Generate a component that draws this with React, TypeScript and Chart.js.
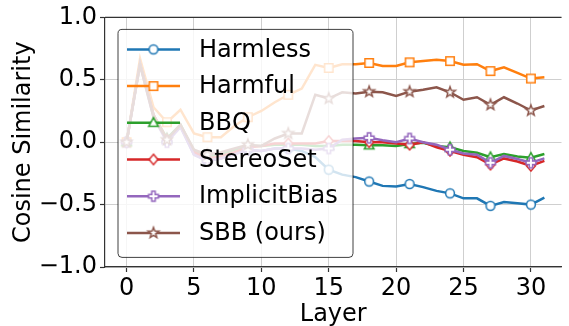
import React, { useEffect, useRef } from 'react';
import { Chart, registerables } from 'chart.js';
Chart.register(...registerables);

const LAYERS = [0, 1, 2, 3, 4, 5, 6, 7, 8, 9, 10, 11, 12, 13, 14, 15, 16, 17, 18, 19, 20, 21, 22, 23, 24, 25, 26, 27, 28, 29, 30, 31];

const HARMLESS = [0, 0.64, 0.22, 0.01, 0.13, -0.1, -0.15, -0.13, -0.09, -0.06, -0.07, -0.05, -0.05, -0.07, -0.12, -0.22, -0.26, -0.28, -0.315, -0.35, -0.355, -0.335, -0.36, -0.39, -0.41, -0.45, -0.45, -0.51, -0.48, -0.49, -0.5, -0.445];
const HARMFUL = [0, 0.67, 0.28, 0.16, 0.26, 0.07, 0.04, 0.04, 0.13, 0.2, 0.25, 0.32, 0.38, 0.43, 0.62, 0.595, 0.625, 0.625, 0.635, 0.61, 0.61, 0.64, 0.65, 0.66, 0.65, 0.62, 0.625, 0.57, 0.6, 0.555, 0.51, 0.52];
const BBQ = [0, 0.63, 0.22, 0.03, 0.14, -0.07, -0.12, -0.1, -0.06, -0.03, -0.03, -0.02, -0.02, -0.02, -0.03, -0.03, -0.02, -0.02, -0.025, -0.025, -0.03, -0.015, -0.005, -0.03, -0.04, -0.07, -0.085, -0.12, -0.095, -0.115, -0.125, -0.095];
const STEREOSET = [0, 0.63, 0.22, 0.02, 0.13, -0.08, -0.13, -0.11, -0.08, -0.04, -0.03, -0.01, -0.01, -0.01, -0.01, 0.01, 0.01, 0.01, 0, 0, -0.01, -0.02, 0, -0.04, -0.07, -0.1, -0.12, -0.18, -0.13, -0.155, -0.19, -0.15];
const IMPLICITBIAS = [0, 0.62, 0.2, 0.0, 0.12, -0.1, -0.15, -0.13, -0.1, -0.06, -0.07, -0.05, -0.05, -0.05, -0.06, -0.05, 0.02, 0.03, 0.035, 0.015, 0, 0.03, 0, -0.02, -0.06, -0.09, -0.1, -0.165, -0.11, -0.135, -0.165, -0.13];
const SBB = [0, 0.62, 0.2, 0.02, 0.14, -0.06, -0.1, -0.08, -0.05, -0.02, -0.03, 0.03, 0.07, 0.07, 0.38, 0.35, 0.4, 0.39, 0.405, 0.4, 0.37, 0.405, 0.42, 0.44, 0.4, 0.34, 0.36, 0.3, 0.36, 0.31, 0.254, 0.29];

const SERIES_NAMES = ['Harmless', 'Harmful', 'BBQ', 'StereoSet', 'ImplicitBias', 'SBB (ours)'];
const SERIES_VALUES = [HARMLESS, HARMFUL, BBQ, STEREOSET, IMPLICITBIAS, SBB];
const COLORS = ['#1f77b4', '#ff7f0e', '#2ca02c', '#d62728', '#9467bd', '#8c564b'];
const MARKERS = ['circle', 'square', 'triangle', 'diamond', 'plus', 'star'];
const X_TICKS = [0, 5, 10, 15, 20, 25, 30];
const Y_TICKS = [-1, -0.5, 0, 0.5, 1];
const MARK_EVERY = 3;

const FONT = 'DejaVu Sans';

function makeMarker(shape: string, color: string): HTMLCanvasElement {
  const c = document.createElement('canvas');
  c.width = 18;
  c.height = 18;
  const g = c.getContext('2d')!;
  g.translate(9, 9);
  g.beginPath();
  if (shape === 'circle') {
    g.arc(0, 0, 4.4, 0, Math.PI * 2);
  } else if (shape === 'square') {
    g.rect(-4.2, -4.2, 8.4, 8.4);
  } else if (shape === 'triangle') {
    g.moveTo(0, -5.2);
    g.lineTo(4.8, 3.6);
    g.lineTo(-4.8, 3.6);
    g.closePath();
  } else if (shape === 'diamond') {
    g.moveTo(0, -5.2);
    g.lineTo(4.4, 0);
    g.lineTo(0, 5.2);
    g.lineTo(-4.4, 0);
    g.closePath();
  } else if (shape === 'plus') {
    const t = 1.7, s = 4.9;
    g.moveTo(-t, -s); g.lineTo(t, -s); g.lineTo(t, -t); g.lineTo(s, -t); g.lineTo(s, t);
    g.lineTo(t, t); g.lineTo(t, s); g.lineTo(-t, s); g.lineTo(-t, t); g.lineTo(-s, t);
    g.lineTo(-s, -t); g.lineTo(-t, -t); g.closePath();
  } else if (shape === 'star') {
    const ro = 5.6, ri = 2.3;
    for (let k = 0; k < 10; k++) {
      const r = k % 2 === 0 ? ro : ri;
      const a = -Math.PI / 2 + (k * Math.PI) / 5;
      const px = r * Math.cos(a), py = r * Math.sin(a);
      if (k === 0) g.moveTo(px, py); else g.lineTo(px, py);
    }
    g.closePath();
  }
  g.fillStyle = '#ffffff';
  g.fill();
  g.strokeStyle = color;
  g.lineWidth = 1.5;
  g.lineJoin = 'miter';
  g.stroke();
  return c;
}

export default function App() {
  const ref = useRef<HTMLCanvasElement | null>(null);

  useEffect(() => {
    document.body.style.margin = '0';
    const canvas = ref.current!;
    const markers = MARKERS.map((m, i) => makeMarker(m, COLORS[i]));

    const datasets = SERIES_VALUES.map((vals, i) => ({
      label: SERIES_NAMES[i],
      data: vals.map((v, j) => ({ x: LAYERS[j], y: v })),
      borderColor: COLORS[i],
      backgroundColor: COLORS[i],
      borderWidth: 2.5,
      tension: 0,
      order: SERIES_VALUES.length - i,
      pointStyle: markers[i],
      pointRadius: (ctx: any) => (ctx.dataIndex % MARK_EVERY === 0 ? 5 : 0),
      pointHoverRadius: 0,
    }));

    const legendPlugin = {
      id: 'mplLegend',
      afterDatasetsDraw(chart: any) {
        const { ctx, chartArea } = chart;
        const x0 = chartArea.left + 13;
        const y0 = chartArea.top + 12;
        const w = 235;
        const h = 228;
        const r = 4;
        ctx.save();
        ctx.beginPath();
        ctx.moveTo(x0 + r, y0);
        ctx.lineTo(x0 + w - r, y0);
        ctx.arcTo(x0 + w, y0, x0 + w, y0 + r, r);
        ctx.lineTo(x0 + w, y0 + h - r);
        ctx.arcTo(x0 + w, y0 + h, x0 + w - r, y0 + h, r);
        ctx.lineTo(x0 + r, y0 + h);
        ctx.arcTo(x0, y0 + h, x0, y0 + h - r, r);
        ctx.lineTo(x0, y0 + r);
        ctx.arcTo(x0, y0, x0 + r, y0, r);
        ctx.closePath();
        ctx.fillStyle = 'rgba(255,255,255,0.8)';
        ctx.fill();
        ctx.strokeStyle = 'rgba(0,0,0,0.75)';
        ctx.lineWidth = 1;
        ctx.stroke();
        ctx.font = `24px "${FONT}"`;
        ctx.textBaseline = 'middle';
        ctx.textAlign = 'left';
        SERIES_NAMES.forEach((name, i) => {
          const cy = y0 + 20 + i * 36.7;
          ctx.beginPath();
          ctx.moveTo(x0 + 9, cy);
          ctx.lineTo(x0 + 62, cy);
          ctx.strokeStyle = COLORS[i];
          ctx.lineWidth = 2.5;
          ctx.stroke();
          const m = markers[i];
          ctx.drawImage(m, x0 + 35.5 - m.width / 2, cy - m.height / 2);
          ctx.fillStyle = '#000';
          ctx.fillText(name, x0 + 81, cy + 1);
        });
        ctx.restore();
      },
      afterDraw(chart: any) {
        const { ctx, chartArea } = chart;
        ctx.save();
        ctx.beginPath();
        ctx.moveTo(chartArea.left, chartArea.top);
        ctx.lineTo(chartArea.right, chartArea.top);
        ctx.strokeStyle = '#333';
        ctx.lineWidth = 1.2;
        ctx.stroke();
        ctx.restore();
      },
    };

    const chart = new Chart(canvas, {
      type: 'line',
      data: { datasets: datasets as any },
      options: {
        animation: false,
        responsive: false,
        events: [],
        layout: { padding: { top: 15, right: 0, left: 0, bottom: 0 } },
        plugins: { legend: { display: false }, tooltip: { enabled: false } },
        scales: {
          x: {
            type: 'linear',
            min: -1.6,
            max: 32.27,
            afterBuildTicks: (s: any) => { s.ticks = X_TICKS.map((v) => ({ value: v })); },
            afterFit: (s: any) => { s.height = 59; },
            ticks: {
              font: { family: FONT, size: 24 },
              color: '#000',
              padding: 2,
              maxRotation: 0,
              autoSkip: false,
            },
            grid: { color: '#cfcfcf', lineWidth: 1, tickColor: '#333', tickLength: 5, tickWidth: 1.2 },
            border: { display: true, color: '#333', width: 1.2 },
            title: {
              display: true,
              text: 'Layer',
              font: { family: FONT, size: 24 },
              color: '#000',
              padding: { top: 0, bottom: -3 },
            },
          },
          y: {
            type: 'linear',
            min: -1,
            max: 1,
            afterBuildTicks: (s: any) => { s.ticks = Y_TICKS.map((v) => ({ value: v })); },
            afterFit: (s: any) => { s.width = 105; },
            ticks: {
              font: { family: FONT, size: 24 },
              color: '#000',
              padding: 3,
              callback: (v: any) => Number(v).toFixed(1).replace('-', '\u2212'),
            },
            grid: { color: '#cfcfcf', lineWidth: 1, tickColor: '#333', tickLength: 5, tickWidth: 1.2 },
            border: { display: true, color: '#333', width: 1.2 },
            title: {
              display: true,
              text: 'Cosine Similarity',
              font: { family: FONT, size: 24 },
              color: '#000',
              padding: { top: 9, bottom: 0 },
            },
          },
        },
      },
      plugins: [legendPlugin],
    });
    return () => chart.destroy();
  }, []);

  return (
    <div style={{ width: 569, height: 326 }}>
      <canvas ref={ref} width={569} height={326} style={{ display: 'block' }} />
    </div>
  );
}
